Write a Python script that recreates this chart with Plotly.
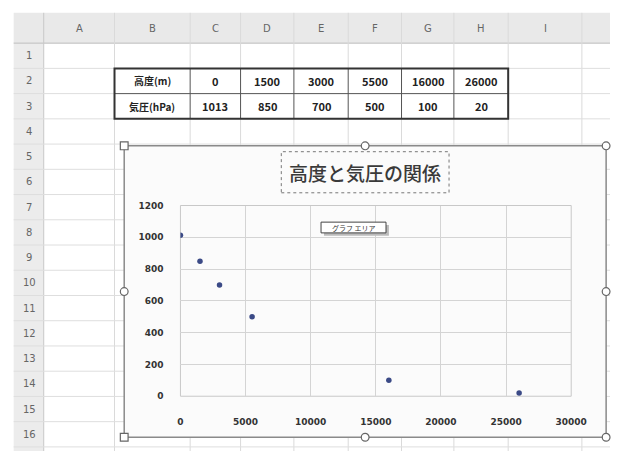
import plotly.graph_objects as go

# ---- data ----
altitude_m = [0, 1500, 3000, 5500, 16000, 26000]
pressure_hpa = [1013, 850, 700, 500, 100, 20]
row_labels = ["高度(m)", "気圧(hPa)"]
col_letters = ["A", "B", "C", "D", "E", "F", "G", "H", "I"]
row_numbers = list(range(1, 17))
x_ticks = [0, 5000, 10000, 15000, 20000, 25000, 30000]
y_ticks = [0, 200, 400, 600, 800, 1000, 1200]
chart_title = "高度と気圧の関係"
tooltip_text = "グラフ エリア"

W, H = 626, 456
JP = "Noto Sans CJK JP"


def px(x):
    return min(max(x, 0), W) / W


def py(y):
    return 1 - min(max(y, 0), H) / H


shapes = []
annotations = []


def rect(x0, y0, x1, y1, fill=None, line_color=None, width=1, dash=None, layer="below"):
    shapes.append(dict(
        type="rect", xref="paper", yref="paper",
        x0=px(x0), x1=px(x1), y0=py(y1), y1=py(y0),
        fillcolor=fill if fill else "rgba(0,0,0,0)",
        line=dict(color=line_color if line_color else "rgba(0,0,0,0)", width=width,
                  dash=dash if dash else "solid"),
        layer=layer))


def line(x0, y0, x1, y1, color, width=1, layer="below"):
    shapes.append(dict(
        type="line", xref="paper", yref="paper",
        x0=px(x0), x1=px(x1), y0=py(y0), y1=py(y1),
        line=dict(color=color, width=width), layer=layer))


def text(x, y, s, size=10, color="#444", family=JP, weight="normal"):
    annotations.append(dict(
        x=px(x), y=py(y), xref="paper", yref="paper", text=s, showarrow=False,
        xanchor="center", yanchor="middle",
        font=dict(size=size, color=color, family=family, weight=weight)))


# ---- spreadsheet frame ----
col_edges = [42, 115, 193, 245, 300, 356, 411, 465, 521, 597]
row_top = 39
row_h = 25.8
row_edges = [row_top + row_h * i for i in range(17)]

# header bar and row-number column
rect(11, 8, W, row_top, fill="#e9e9e9")
rect(11, row_top, 42, H, fill="#ececec")
line(11, row_top, W, row_top, "#bdbdbd", 1)
line(42, 8, 42, H, "#c8c8c8", 1)

# cell grid
for ce in col_edges[1:]:
    line(ce, 8, ce, H, "#dadada", 1)
for re in row_edges[1:]:
    line(11, re, W, re, "#dedede", 1)

# column letters
for i, c in enumerate(col_letters):
    cx = (col_edges[i] + col_edges[i + 1]) / 2
    text(cx, 24, c, size=10, color="#666", family="DejaVu Sans")

# row numbers
for i, r in enumerate(row_numbers):
    cy = (row_edges[i] + row_edges[i + 1]) / 2
    text(27, cy, str(r), size=10, color="#666", family="DejaVu Sans")

# ---- data table (rows 2-3, columns B-H) ----
t_top, t_mid, t_bot = row_edges[1], row_edges[2], row_edges[3]
t_left, t_right = col_edges[1], col_edges[8]
rect(t_left, t_top, t_right, t_bot, fill="white")
line(t_left, t_mid, t_right, t_mid, "#555", 1)
for ce in col_edges[2:8]:
    line(ce, t_top, ce, t_bot, "#555", 1)
rect(t_left, t_top, t_right, t_bot, line_color="#333", width=2)

table_rows = [[row_labels[0]] + [str(v) for v in altitude_m],
              [row_labels[1]] + [str(v) for v in pressure_hpa]]
for ri, row in enumerate(table_rows):
    cy = (row_edges[1 + ri] + row_edges[2 + ri]) / 2
    for ci, val in enumerate(row):
        cx = (col_edges[1 + ci] + col_edges[2 + ci]) / 2
        text(cx, cy, val, size=11 if ci else 10, color="#222", weight=600)

# ---- chart object ----
c_left, c_top, c_right, c_bot = 125, 144, 622, 442
rect(c_left, c_top, c_right, c_bot, fill="#fbfbfb", line_color="#8a8a8a", width=1.5)

# title with dotted selection box
rect(287, 150, 460, 192, fill="#fbfbfb", line_color="#777", width=1, dash="dot", layer="above")
text(373.5, 171, chart_title, size=19, color="#3a3a3a", weight=500)

# tooltip
rect(331, 225, 398, 236, fill="#bbbbbb", layer="above")
rect(328, 222, 395, 233, fill="white", line_color="#444", width=1, layer="above")
text(361.5, 227.5, tooltip_text, size=7, color="#333")

# selection handles
for hx, hy in [(c_right, c_top), (c_right, c_bot), ((c_left + c_right) / 2, c_top),
               ((c_left + c_right) / 2, c_bot), (c_left, (c_top + c_bot) / 2),
               (c_right, (c_top + c_bot) / 2)]:
    shapes.append(dict(type="circle", xref="paper", yref="paper",
                       x0=px(hx - 4), x1=px(hx + 4), y0=py(hy + 4), y1=py(hy - 4),
                       fillcolor="white", line=dict(color="#666", width=1.2), layer="above"))
for hx, hy in [(c_left, c_top), (c_left, c_bot)]:
    rect(hx - 4, hy - 4, hx + 4, hy + 4, fill="white", line_color="#666", width=1.2, layer="above")

# ---- scatter plot ----
fig = go.Figure(go.Scatter(
    x=altitude_m, y=pressure_hpa, mode="markers",
    marker=dict(size=5.5, color="#3b4a86"),
    hoverinfo="skip"))

tick_font = dict(size=9, color="#333", family="DejaVu Sans", weight="bold")
fig.update_layout(
    width=W, height=H, margin=dict(l=0, r=0, t=0, b=0),
    paper_bgcolor="white", plot_bgcolor="rgba(0,0,0,0)",
    showlegend=False, shapes=shapes, annotations=annotations,
    xaxis=dict(domain=[183 / W, 586 / W], range=[0, 30000],
               tickvals=x_ticks, ticktext=[str(v) for v in x_ticks],
               showgrid=True, gridcolor="#d4d4d4", gridwidth=1, zeroline=False,
               showline=False, ticks="", ticklabelstandoff=19, tickfont=tick_font),
    yaxis=dict(domain=[1 - 400 / H, 1 - 205 / H], range=[0, 1200],
               tickvals=y_ticks, ticktext=[str(v) for v in y_ticks],
               showgrid=True, gridcolor="#d4d4d4", gridwidth=1, zeroline=False,
               showline=False, ticks="", ticklabelstandoff=16, tickfont=tick_font),
)
fig.add_shape(type="rect", xref="paper", yref="paper", x0=183 / W, x1=586 / W,
              y0=1 - 400 / H, y1=1 - 205 / H, line=dict(color="#c8c8c8", width=1), layer="below")

# keep the page itself from scrolling
fig.write_html("out.html", config={"displayModeBar": False},
               post_script="document.documentElement.style.overflow='hidden';"
                           "document.body.style.margin='0';")
